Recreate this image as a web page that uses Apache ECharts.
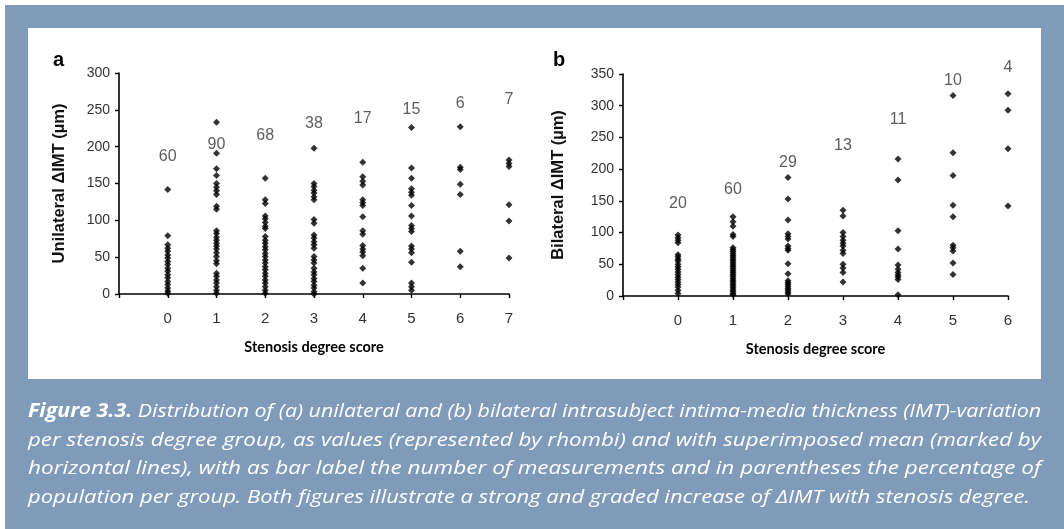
<!DOCTYPE html>
<html><head><meta charset="utf-8">
<script src="https://cdn.jsdelivr.net/npm/echarts@6/dist/echarts.min.js"></script>
<style>
html,body{margin:0;padding:0;background:#fff;overflow:hidden;}
#frame{position:absolute;left:5px;top:5px;width:1059px;height:524px;background:#7f9bb9;}
#panel{position:absolute;left:28px;top:28px;width:1013px;height:351px;background:#fff;}
#chart{position:absolute;left:0;top:0;width:1064px;height:529px;}
</style></head><body>
<div id="frame"></div><div id="panel"></div><div id="chart"></div>
<script>
// ---- Panel a: unilateral ΔIMT per stenosis degree score ----
const uniCategories = [0, 1, 2, 3, 4, 5, 6, 7];
const uniCounts = [60, 90, 68, 38, 17, 15, 6, 7];
const uniCountLabelLevel = [186, 203, 215, 231, 238, 250, 258, 264];
const uniValues = [
  [142, 79, 67, 62, 58, 53, 49, 44, 40, 35, 31, 26, 22, 17, 13, 8, 4, 1],
  [233, 191, 170, 161, 150, 145, 140, 135, 119, 115, 86, 82, 77, 73, 69, 65, 61, 56, 51, 45, 41, 28, 24, 19, 15, 10, 5, 1],
  [157, 128, 123, 106, 102, 97, 92, 89, 78, 73, 69, 64, 60, 55, 51, 46, 42, 37, 33, 28, 24, 19, 15, 10, 5, 1],
  [198, 150, 146, 141, 137, 132, 128, 101, 96, 80, 76, 71, 67, 62, 51, 46, 42, 35, 30, 26, 21, 17, 12, 8, 3, 0],
  [179, 159, 153, 148, 128, 124, 120, 105, 86, 81, 66, 61, 57, 52, 35, 15],
  [226, 171, 157, 143, 138, 134, 120, 106, 93, 89, 85, 65, 61, 56, 43, 15, 10, 5],
  [227, 172, 169, 149, 135, 58, 37],
  [182, 177, 173, 121, 99, 49]
];
const uniYTicks = {min: 0, max: 300, interval: 50};

// ---- Panel b: bilateral ΔIMT per stenosis degree score ----
const bilCategories = [0, 1, 2, 3, 4, 5, 6];
const bilCounts = [20, 60, 29, 13, 11, 10, 4];
const bilCountLabelLevel = [145, 167, 211, 237, 278, 340, 360];
const bilValues = [
  [96, 92, 88, 84, 65, 62, 58, 55, 50, 46, 42, 38, 34, 30, 26, 22, 18, 14, 9, 4],
  [125, 117, 110, 97, 94, 76, 73, 70, 67, 64, 61, 58, 55, 52, 49, 46, 43, 40, 37, 34, 31, 28, 25, 22, 19, 16, 13, 10, 7, 4, 2],
  [187, 153, 120, 98, 94, 90, 79, 75, 72, 51, 35, 24, 21, 18, 15, 12, 9, 6, 3],
  [135, 126, 100, 94, 88, 83, 79, 72, 67, 50, 44, 37, 22],
  [216, 183, 103, 74, 49, 42, 37, 33, 30, 26, 2],
  [316, 226, 190, 143, 125, 80, 76, 71, 52, 34],
  [319, 293, 232, 142]
];
const bilYTicks = {min: 0, max: 350, interval: 50};

const xTitle = 'Stenosis degree score';
const uniYTitle = 'Unilateral \u0394IMT (\u00b5m)';
const bilYTitle = 'Bilateral \u0394IMT (\u00b5m)';
const captionBold = 'Figure 3.3.';
const captionLines = [
  ' Distribution of (a) unilateral and (b) bilateral intrasubject intima-media thickness (IMT)-variation',
  'per stenosis degree group, as values (represented by rhombi) and with superimposed mean (marked by',
  'horizontal lines), with as bar label the number of measurements and in parentheses the percentage of',
  'population per group. Both figures illustrate a strong and graded increase of \u0394IMT with stenosis degree.'
];

function pts(cats, vals) {
  const out = [];
  cats.forEach((c, i) => vals[i].forEach(v => out.push([c, v])));
  return out;
}
function labelPts(cats, levels, counts) {
  return cats.map((c, i) => ({value: [c, levels[i]], count: counts[i]}));
}

const tickColor = '#333';
function xAxisFor(idx, maxCat) {
  return {
    type: 'value', gridIndex: idx, min: -1, max: maxCat, interval: 1,
    splitLine: {show: false},
    axisLine: {onZero: false, lineStyle: {color: '#000', width: 1.6}},
    axisTick: {show: true, length: 4, lineStyle: {color: '#000', width: 1.4}},
    axisLabel: {color: tickColor, fontSize: 15, fontFamily: 'Liberation Sans', margin: 17,
      formatter: v => (v < 0 ? '' : String(v))},
    name: xTitle, nameLocation: 'middle', nameGap: 46,
    nameTextStyle: {fontFamily: 'Lato', fontWeight: 'bold', fontSize: 14.5, color: '#000'}
  };
}
function yAxisFor(idx, t, title, gap) {
  return {
    type: 'value', gridIndex: idx, min: t.min, max: t.max, interval: t.interval,
    splitLine: {show: false},
    axisLine: {show: true, onZero: false, lineStyle: {color: '#000', width: 1.6}},
    axisTick: {show: true, length: 4, lineStyle: {color: '#000', width: 1.4}},
    axisLabel: {color: tickColor, fontSize: 14, fontFamily: 'Liberation Sans', margin: 9},
    name: title, nameLocation: 'middle', nameGap: gap, nameRotate: 90,
    nameTextStyle: {fontFamily: 'Liberation Sans', fontWeight: 'bold', fontSize: 16.5, color: '#111'}
  };
}
function dots(idx, data) {
  return {type: 'scatter', xAxisIndex: idx, yAxisIndex: idx, data: data,
    symbol: 'diamond', symbolSize: 7, itemStyle: {color: '#000'}, silent: true, z: 3};
}
function countLabels(idx, data) {
  return {type: 'scatter', xAxisIndex: idx, yAxisIndex: idx, data: data, clip: false,
    symbol: 'circle', symbolSize: 0.1, itemStyle: {color: 'rgba(0,0,0,0)'}, silent: true,
    label: {show: true, position: 'inside', color: tickColor, fontSize: 16, fontFamily: 'Liberation Sans',
      formatter: p => String(p.data.count)}};
}

// caption justified by scaling each line to the text block width
const capSize = 19;
const ctx = document.createElement('canvas').getContext('2d');
function measure(txt, weight) {
  ctx.font = 'italic ' + weight + ' ' + capSize + 'px "Open Sans"';
  return ctx.measureText(txt).width;
}
const capX = 28, capW = [1013, 1013, 1013, 1002], capY = [412, 441, 469, 498];
const graphics = [
  {type: 'text', x: 53, y: 60, style: {text: 'a', fontSize: 20, fontWeight: 'bold', fontFamily: 'Liberation Sans', fill: '#000', verticalAlign: 'middle'}},
  {type: 'text', x: 553, y: 60, style: {text: 'b', fontSize: 20, fontWeight: 'bold', fontFamily: 'Liberation Sans', fill: '#000', verticalAlign: 'middle'}}
];
captionLines.forEach((line, i) => {
  const wb = i === 0 ? measure(captionBold, 'bold') : 0;
  const wr = measure(line, 'normal');
  const s = capW[i] / (wb + wr);
  if (i === 0) {
    graphics.push({type: 'text', x: capX, y: capY[i], scaleX: s,
      style: {text: captionBold, fontSize: capSize, fontStyle: 'italic', fontWeight: 'bold', fontFamily: 'Open Sans', fill: '#fff', verticalAlign: 'middle'}});
  }
  graphics.push({type: 'text', x: capX + wb * s, y: capY[i], scaleX: s,
    style: {text: line, fontSize: capSize, fontStyle: 'italic', fontWeight: 'normal', fontFamily: 'Open Sans', fill: '#fff', verticalAlign: 'middle'}});
});

const chart = echarts.init(document.getElementById('chart'), null, {renderer: 'canvas'});
chart.setOption({
  backgroundColor: 'transparent',
  animation: false,
  grid: [
    {left: 119, top: 73, width: 390, height: 221},
    {left: 623, top: 74, width: 385, height: 222}
  ],
  xAxis: [xAxisFor(0, 7), xAxisFor(1, 6)],
  yAxis: [yAxisFor(0, uniYTicks, uniYTitle, 51), yAxisFor(1, bilYTicks, bilYTitle, 56)],
  series: [
    dots(0, pts(uniCategories, uniValues)),
    countLabels(0, labelPts(uniCategories, uniCountLabelLevel, uniCounts)),
    dots(1, pts(bilCategories, bilValues)),
    countLabels(1, labelPts(bilCategories, bilCountLabelLevel, bilCounts))
  ],
  graphic: {elements: graphics}
});
</script></body></html>
